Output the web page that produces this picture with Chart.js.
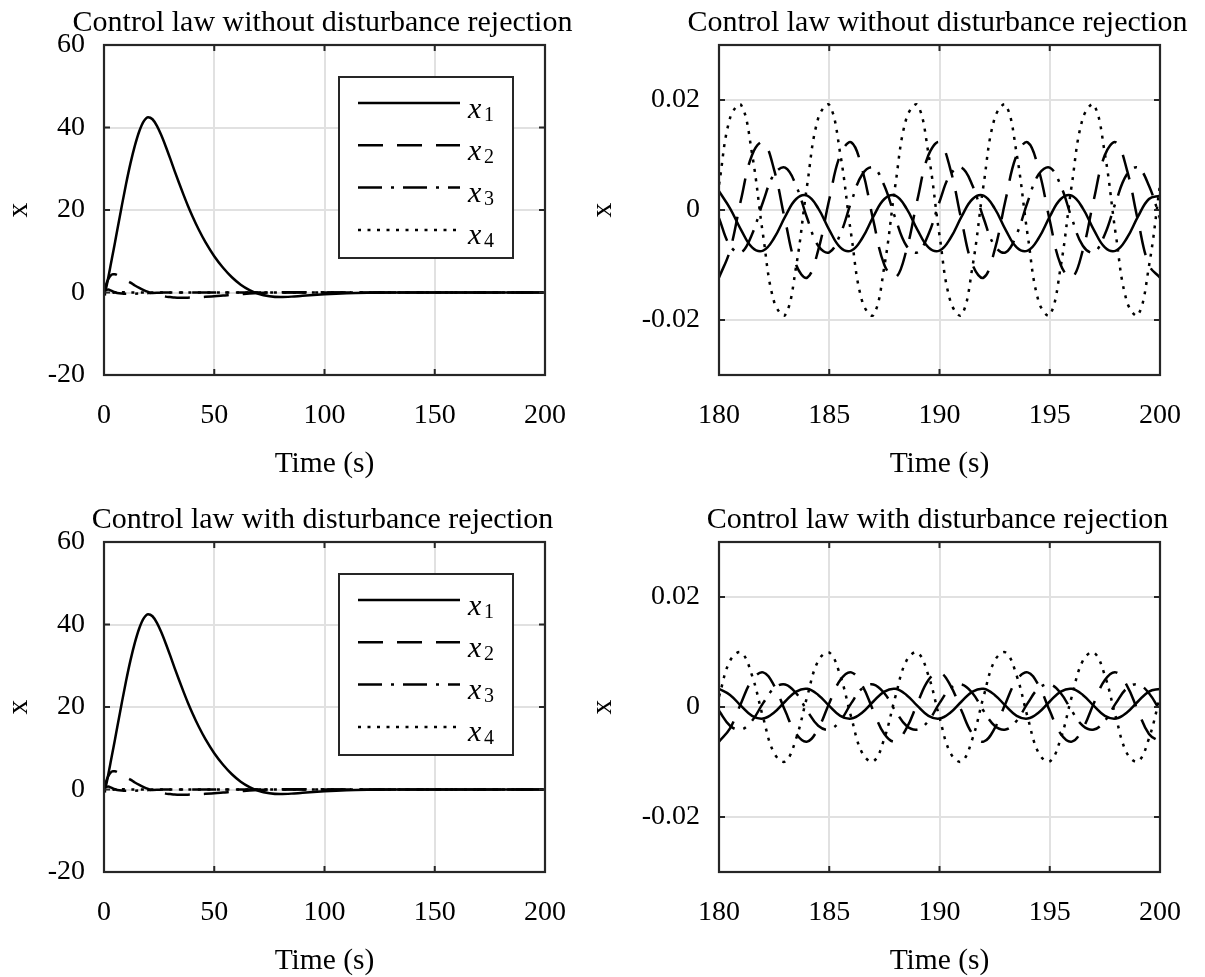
<!DOCTYPE html>
<html>
<head>
<meta charset="utf-8">
<script src="https://cdn.jsdelivr.net/npm/chart.js@4.4.1/dist/chart.umd.min.js"></script>
<style>
    html, body { margin: 0; padding: 0; background: #fff; overflow: hidden; }
    #wrap { position: relative; width: 1205px; height: 977px; overflow: hidden; }
    canvas { position: absolute; }
</style>
</head>
<body>
<div id="wrap">
    <canvas id="c1" width="600" height="500" style="left:0px;top:0px"></canvas>
    <canvas id="c2" width="620" height="500" style="left:585px;top:0px"></canvas>
    <canvas id="c3" width="600" height="500" style="left:0px;top:497px"></canvas>
    <canvas id="c4" width="620" height="500" style="left:585px;top:497px"></canvas>
</div>
<script>
// transient, 0-200 s (same response in both left panels)
const tTransient = [0, 1, 2, 3, 4, 5, 6, 8, 10, 12, 14, 16, 18, 20, 22, 24, 26, 28, 30, 32, 34, 36, 38, 40,
    43, 46, 50, 54, 58, 62, 66, 70, 75, 80, 85, 90, 100, 110, 120, 130, 140, 160, 180, 200];
const x1Transient = [0, 1.2, 3.8, 6.6, 9.4, 12.2, 15.1, 20.8, 26.3, 31.3, 35.6, 39.1, 41.5, 42.5,
    42.0, 40.4, 38.1, 35.4, 32.5, 29.5, 26.6, 23.8, 21.1, 18.6,
    15.2, 12.2, 8.8, 6.0, 3.7, 1.9, 0.6, -0.3, -0.9, -1.1, -1.0, -0.8, -0.45, -0.2, -0.08, -0.02, 0, 0, 0, 0];
const x2Transient = [0, 2.0, 3.3, 4.1, 4.4, 4.4, 4.2, 3.6, 3.0, 2.4, 1.7, 1.1, 0.6, 0.15,
    -0.25, -0.55, -0.8, -1.0, -1.1, -1.2, -1.25, -1.25, -1.25, -1.2,
    -1.15, -1.05, -0.9, -0.75, -0.55, -0.4, -0.25, -0.12, 0, 0.05, 0.06, 0.05, 0.03, 0.01, 0, 0, 0, 0, 0, 0];
const x3Transient = [0, 0.6, 0.7, 0.5, 0.25, 0.05, -0.1, -0.25, -0.3, -0.3, -0.28, -0.25, -0.2, -0.15,
    -0.1, -0.06, -0.03, 0, 0.02, 0.03, 0.03, 0.03, 0.02, 0.02,
    0.01, 0.01, 0, 0, 0, 0, 0, 0, 0, 0, 0, 0, 0, 0, 0, 0, 0, 0, 0, 0];
const x4Transient = [0, -0.5, -0.4, -0.2, -0.05, 0, 0.05, 0.05, 0.04, 0.03, 0.02, 0.01, 0, 0,
    0, 0, 0, 0, 0, 0, 0, 0, 0, 0,
    0, 0, 0, 0, 0, 0, 0, 0, 0, 0, 0, 0, 0, 0, 0, 0, 0, 0, 0, 0];

// steady state, 180-200 s
const tZoom = [180, 180.5, 181, 181.5, 182, 182.5, 183, 183.5, 184, 184.5, 185, 185.5, 186, 186.5,
    187, 187.5, 188, 188.5, 189, 189.5, 190, 190.5, 191, 191.5, 192, 192.5, 193, 193.5,
    194, 194.5, 195, 195.5, 196, 196.5, 197, 197.5, 198, 198.5, 199, 199.5, 200];

// without disturbance rejection
const x1NoRej = [0.0034, 0.0003, -0.0036, -0.0068, -0.0074, -0.0051, -0.0012, 0.0020,
    0.0026, 0.0003, -0.0036, -0.0068, -0.0074, -0.0051, -0.0012, 0.0020,
    0.0026, 0.0003, -0.0036, -0.0068, -0.0074, -0.0051, -0.0012, 0.0020,
    0.0026, 0.0003, -0.0036, -0.0068, -0.0074, -0.0051, -0.0012, 0.0020,
    0.0026, 0.0003, -0.0036, -0.0068, -0.0074, -0.0051, -0.0012, 0.0020,
    0.0026];
const x2NoRej = [-0.0123, -0.0073, 0.0019, 0.0100, 0.0123, 0.0073, -0.0019, -0.0100,
    -0.0123, -0.0073, 0.0019, 0.0100, 0.0123, 0.0073, -0.0019, -0.0100,
    -0.0123, -0.0073, 0.0019, 0.0100, 0.0123, 0.0073, -0.0019, -0.0100,
    -0.0123, -0.0073, 0.0019, 0.0100, 0.0123, 0.0073, -0.0019, -0.0100,
    -0.0123, -0.0073, 0.0019, 0.0100, 0.0123, 0.0073, -0.0019, -0.0100,
    -0.0123];
const x3NoRej = [-0.0015, -0.0065, -0.0077, -0.0044, 0.0015, 0.0065, 0.0077, 0.0044,
    -0.0015, -0.0065, -0.0077, -0.0044, 0.0015, 0.0065, 0.0077, 0.0044,
    -0.0015, -0.0065, -0.0077, -0.0044, 0.0015, 0.0065, 0.0077, 0.0044,
    -0.0015, -0.0065, -0.0077, -0.0044, 0.0015, 0.0065, 0.0077, 0.0044,
    -0.0015, -0.0065, -0.0077, -0.0044, 0.0015, 0.0065, 0.0077, 0.0044,
    -0.0015];
const x4NoRej = [0.0046, 0.0167, 0.0191, 0.0102, -0.0046, -0.0167, -0.0191, -0.0102,
    0.0046, 0.0167, 0.0191, 0.0102, -0.0046, -0.0167, -0.0191, -0.0102,
    0.0046, 0.0167, 0.0191, 0.0102, -0.0046, -0.0167, -0.0191, -0.0102,
    0.0046, 0.0167, 0.0191, 0.0102, -0.0046, -0.0167, -0.0191, -0.0102,
    0.0046, 0.0167, 0.0191, 0.0102, -0.0046, -0.0167, -0.0191, -0.0102,
    0.0046];

// with disturbance rejection
const x1Rej = [0.0033, 0.0022, 0.0002, -0.0016, -0.0021, -0.0010, 0.0010, 0.0028,
    0.0033, 0.0022, 0.0002, -0.0016, -0.0021, -0.0010, 0.0010, 0.0028,
    0.0033, 0.0022, 0.0002, -0.0016, -0.0021, -0.0010, 0.0010, 0.0028,
    0.0033, 0.0022, 0.0002, -0.0016, -0.0021, -0.0010, 0.0010, 0.0028,
    0.0033, 0.0022, 0.0002, -0.0016, -0.0021, -0.0010, 0.0010, 0.0028,
    0.0033];
const x2Rej = [-0.0063, -0.0039, 0.0007, 0.0049, 0.0063, 0.0039, -0.0007, -0.0049,
    -0.0063, -0.0039, 0.0007, 0.0049, 0.0063, 0.0039, -0.0007, -0.0049,
    -0.0063, -0.0039, 0.0007, 0.0049, 0.0063, 0.0039, -0.0007, -0.0049,
    -0.0063, -0.0039, 0.0007, 0.0049, 0.0063, 0.0039, -0.0007, -0.0049,
    -0.0063, -0.0039, 0.0007, 0.0049, 0.0063, 0.0039, -0.0007, -0.0049,
    -0.0063];
const x3Rej = [-0.0007, -0.0034, -0.0041, -0.0025, 0.0007, 0.0034, 0.0041, 0.0025,
    -0.0007, -0.0034, -0.0041, -0.0025, 0.0007, 0.0034, 0.0041, 0.0025,
    -0.0007, -0.0034, -0.0041, -0.0025, 0.0007, 0.0034, 0.0041, 0.0025,
    -0.0007, -0.0034, -0.0041, -0.0025, 0.0007, 0.0034, 0.0041, 0.0025,
    -0.0007, -0.0034, -0.0041, -0.0025, 0.0007, 0.0034, 0.0041, 0.0025,
    -0.0007];
const x4Rej = [0.0019, 0.0084, 0.0099, 0.0057, -0.0019, -0.0084, -0.0099, -0.0057,
    0.0019, 0.0084, 0.0099, 0.0057, -0.0019, -0.0084, -0.0099, -0.0057,
    0.0019, 0.0084, 0.0099, 0.0057, -0.0019, -0.0084, -0.0099, -0.0057,
    0.0019, 0.0084, 0.0099, 0.0057, -0.0019, -0.0084, -0.0099, -0.0057,
    0.0019, 0.0084, 0.0099, 0.0057, -0.0019, -0.0084, -0.0099, -0.0057,
    0.0019];

const zoomTicks = [-0.02, 0, 0.02];
const zoomTickLabels = ['-0.02', '0', '0.02'];
const seriesNames = ['x1', 'x2', 'x3', 'x4'];

const INK = '#262626';
const GRID = '#e1e1e1';
const SERIF = '"Liberation Serif", "Times New Roman", serif';
const DASHES = [[], [25, 14], [24, 9, 3, 9], [3, 6.5]];

Chart.defaults.font.family = SERIF;
Chart.defaults.color = INK;

// MATLAB style box with inward ticks on all four sides
const axesBox = {
    id: 'axesBox',
    afterDatasetsDraw(chart) {
        const { ctx, chartArea: a, scales: { x, y } } = chart;
        ctx.save();
        ctx.strokeStyle = INK;
        ctx.lineWidth = 2;
        ctx.beginPath();
        x.ticks.forEach(t => {
            const px = x.getPixelForValue(t.value);
            ctx.moveTo(px, a.bottom); ctx.lineTo(px, a.bottom - 6);
            ctx.moveTo(px, a.top); ctx.lineTo(px, a.top + 6);
        });
        y.ticks.forEach(t => {
            const py = y.getPixelForValue(t.value);
            ctx.moveTo(a.left, py); ctx.lineTo(a.left + 6, py);
            ctx.moveTo(a.right, py); ctx.lineTo(a.right - 6, py);
        });
        ctx.stroke();
        ctx.lineWidth = 2.2;
        ctx.strokeRect(a.left, a.top, a.width, a.height);
        ctx.restore();
    }
};

// title centred over the axes box, like MATLAB
const axesTitle = {
    id: 'axesTitle',
    afterDraw(chart, args, opts) {
        const { ctx, chartArea: a } = chart;
        ctx.save();
        ctx.fillStyle = '#000';
        ctx.font = '30px ' + SERIF;
        ctx.textAlign = 'center';
        ctx.textBaseline = 'middle';
        ctx.fillText(opts.text, (a.left + a.right) / 2 - 2, a.top - 22);
        ctx.restore();
    }
};

// legend box in the upper right of the axes
const legendBox = {
    id: 'legendBox',
    afterDraw(chart, args, opts) {
        if (!opts.show) return;
        const { ctx, chartArea: a } = chart;
        const L = a.left + 235, T = a.top + 32, W = 174, H = 181;
        ctx.save();
        ctx.fillStyle = '#fff';
        ctx.fillRect(L, T, W, H);
        ctx.strokeStyle = INK;
        ctx.lineWidth = 2;
        ctx.strokeRect(L, T, W, H);
        chart.data.datasets.forEach((ds, i) => {
            const yy = T + 26 + i * 42.3;
            ctx.strokeStyle = ds.borderColor;
            ctx.lineWidth = ds.borderWidth;
            ctx.setLineDash(ds.borderDash);
            ctx.beginPath();
            ctx.moveTo(L + 19, yy);
            ctx.lineTo(L + 121, yy);
            ctx.stroke();
            ctx.setLineDash([]);
            ctx.fillStyle = '#000';
            ctx.textBaseline = 'alphabetic';
            ctx.font = 'italic 30px ' + SERIF;
            ctx.fillText(ds.label.charAt(0), L + 129, yy + 14.5);
            ctx.font = '20px ' + SERIF;
            ctx.fillText(ds.label.slice(1), L + 145, yy + 17.5);
        });
        ctx.restore();
    }
};

function makeDatasets(times, series, smooth) {
    return series.map((vals, i) => ({
        label: seriesNames[i],
        data: times.map((t, k) => ({ x: t, y: vals[k] })),
        borderColor: '#000',
        borderWidth: 2.5,
        borderDash: DASHES[i],
        borderCapStyle: 'butt',
        pointRadius: 0,
        fill: false,
        tension: smooth === 'monotone' ? 0 : 0.4,
        cubicInterpolationMode: smooth === 'monotone' ? 'monotone' : 'default'
    }));
}

function makePanel(id, p) {
    return new Chart(document.getElementById(id), {
        type: 'line',
        data: { datasets: makeDatasets(p.times, p.series, p.smooth) },
        options: {
            responsive: false,
            animation: false,
            devicePixelRatio: 1,
            layout: { padding: { left: 0, right: p.padRight, top: 45, bottom: 0 } },
            plugins: {
                legend: { display: false },
                tooltip: { enabled: false },
                title: { display: false },
                axesTitle: { text: p.title },
                legendBox: { show: p.legend }
            },
            scales: {
                x: {
                    type: 'linear', min: p.xMin, max: p.xMax,
                    ticks: { stepSize: p.xStep, padding: 24, color: '#000', font: { size: 28 }, maxRotation: 0, autoSkip: false },
                    grid: { color: GRID, lineWidth: 2, drawTicks: false },
                    border: { display: false },
                    title: { display: true, text: 'Time (s)', color: '#000', font: { size: 29.5 }, padding: { top: 0, bottom: 17.8 } },
                    afterFit: s => { s.height = 125; }
                },
                y: {
                    type: 'linear', min: p.yMin, max: p.yMax,
                    ticks: {
                        stepSize: p.yStep, padding: 19, color: '#000', font: { size: 28 },
                        callback: p.yLabel || (v => v)
                    },
                    afterBuildTicks: p.yTicks ? (s => { s.ticks = p.yTicks.map(v => ({ value: v })); }) : undefined,
                    grid: { color: GRID, lineWidth: 2, drawTicks: false },
                    border: { display: false },
                    title: { display: true, text: 'x', color: '#000', font: { size: 29.5 }, padding: { top: p.yTitlePad, bottom: 0 } },
                    afterFit: s => { s.width = p.yWidth; }
                }
            }
        },
        plugins: [axesBox, axesTitle, legendBox]
    });
}

const leftBase = {
    times: tTransient, smooth: 'monotone', legend: true,
    xMin: 0, xMax: 200, xStep: 50, yMin: -20, yMax: 60, yStep: 20,
    yWidth: 104, padRight: 55, yTitlePad: 1.3
};
const rightBase = {
    times: tZoom, smooth: 'bezier', legend: false,
    xMin: 180, xMax: 200, xStep: 5, yMin: -0.03, yMax: 0.03, yStep: 0.01,
    yTicks: zoomTicks, yLabel: v => zoomTickLabels[zoomTicks.indexOf(v)],
    yWidth: 134, padRight: 43, yTitlePad: 0.3
};

makePanel('c1', Object.assign({}, leftBase, {
    title: 'Control law without disturbance rejection',
    series: [x1Transient, x2Transient, x3Transient, x4Transient]
}));
makePanel('c2', Object.assign({}, rightBase, {
    title: 'Control law without disturbance rejection',
    series: [x1NoRej, x2NoRej, x3NoRej, x4NoRej]
}));
makePanel('c3', Object.assign({}, leftBase, {
    title: 'Control law with disturbance rejection',
    series: [x1Transient, x2Transient, x3Transient, x4Transient]
}));
makePanel('c4', Object.assign({}, rightBase, {
    title: 'Control law with disturbance rejection',
    series: [x1Rej, x2Rej, x3Rej, x4Rej]
}));
</script>
</body>
</html>
